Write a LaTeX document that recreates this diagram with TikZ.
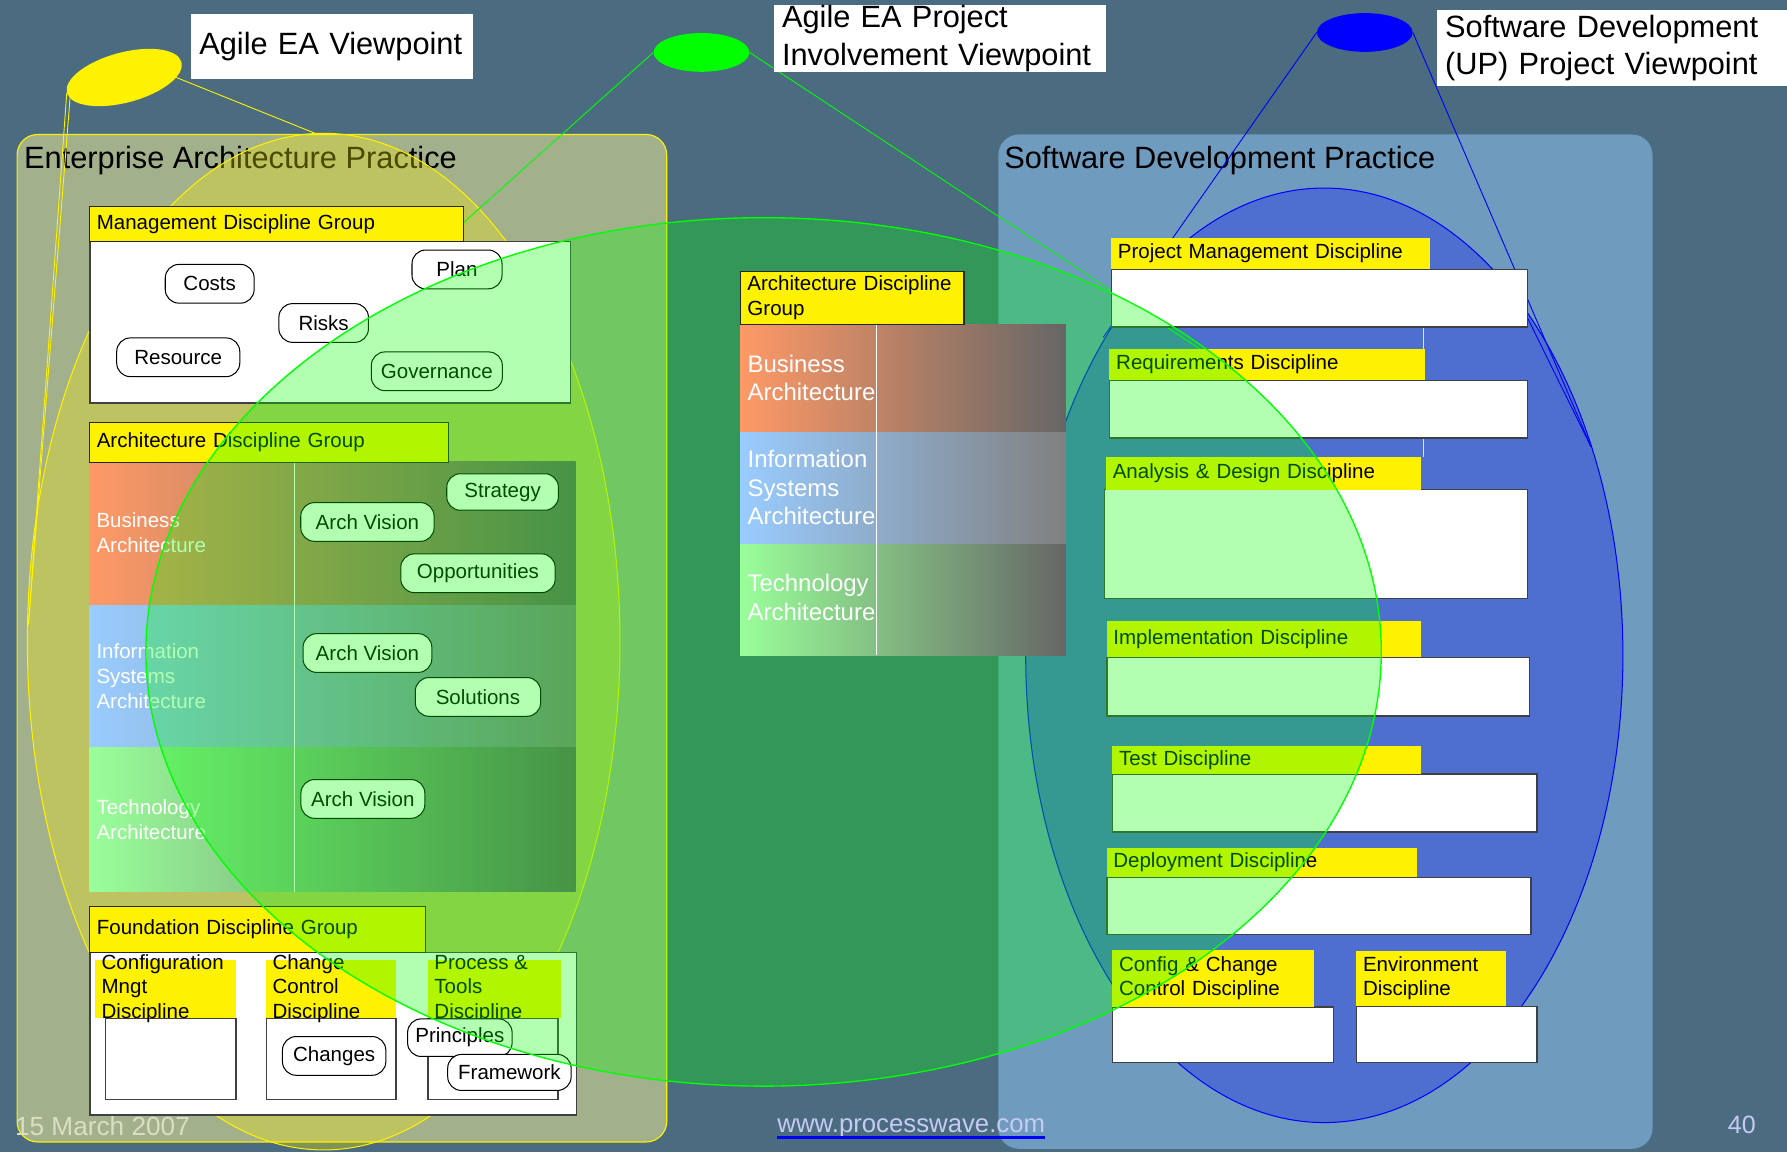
\documentclass[tikz,border=0pt]{standalone}
\usepackage{fontspec}
\setmainfont{Liberation Sans}
\usetikzlibrary{shapes.geometric}
\definecolor{bgc}{RGB}{74,107,128}
\definecolor{eapc}{RGB}{162,176,140}
\definecolor{sdpc}{RGB}{111,155,190}
\definecolor{orng}{RGB}{255,153,102}
\definecolor{lblue}{RGB}{153,204,255}
\definecolor{lgreen}{RGB}{153,255,153}
\definecolor{gry}{RGB}{102,102,102}
\definecolor{gry2}{RGB}{128,128,128}
\definecolor{datec}{RGB}{218,222,196}
\definecolor{urlc}{RGB}{198,202,242}
\newcommand\fsz[2]{\fontsize{#1}{#2}\selectfont}
\begin{document}
\begin{tikzpicture}[x=1pt,y=-1pt,
  hdr/.style={rectangle, fill=yellow, draw=black!85, line width=0.9pt, anchor=north west, inner xsep=6pt, inner ysep=0pt, align=left, font=\fsz{18}{22}},
  shdr/.style={rectangle, fill=yellow, anchor=north west, inner xsep=6pt, inner ysep=0pt, align=left, font=\fsz{18}{21}},
  wbody/.style={rectangle, fill=white, draw=black!75, line width=1.1pt, anchor=north west, inner sep=0pt},
  subl/.style={rectangle, fill=yellow, anchor=north west, inner sep=0pt},
  pill/.style={rectangle, rounded corners=12pt, fill=white, draw=black, line width=0.9pt, minimum height=34pt, inner sep=0pt, font=\fsz{18}{22}},
  bandlbl/.style={anchor=west, inner sep=0pt, align=left, text=white, font=\fsz{18}{22}},
  cbandlbl/.style={anchor=west, inner sep=0pt, align=left, text=white, font=\fsz{21}{25}},
  fndlbl/.style={anchor=west, inner sep=0pt, align=left, font=\fsz{18}{21.5}},
  lbl/.style={rectangle, fill=white, anchor=north west, inner xsep=7pt, inner ysep=0pt, align=left, font=\fsz{27}{33}},
  vpmark/.style={ellipse, inner sep=0pt},
  ttl/.style={anchor=west, inner sep=0pt, font=\fsz{27}{32}},
  ]
% background
\fill[bgc] (0,0) rectangle (1568,1011);
\useasboundingbox (0,0) rectangle (1568,1011);

% practice areas
\draw[fill=eapc, draw=yellow, line width=1pt, rounded corners=18pt] (15,118) rectangle (585,1002);
\fill[sdpc, rounded corners=18pt] (876,118) rectangle (1450,1008);
\node[ttl] (eat) at (21,141) {Enterprise Architecture Practice};
\node[ttl] (sdt) at (881,141) {Software Development Practice};

% viewpoint coverage ellipses
\draw[yellow, line width=0.9pt, fill=yellow, fill opacity=0.3] (284,563) ellipse [x radius=260pt, y radius=446pt];
\draw[blue, line width=0.9pt, fill=blue, fill opacity=0.29] (1162,575) ellipse [x radius=262pt, y radius=410pt];

% viewpoint markers
\node[vpmark, fill=yellow, minimum width=104pt, minimum height=44pt, rotate=15] (yv) at (109,68) {};
\node[vpmark, fill=green, minimum width=84pt, minimum height=34pt] (gv) at (615.5,46) {};
\node[vpmark, fill=blue, minimum width=84pt, minimum height=34pt] (bv) at (1197.5,28.5) {};

% cone end points
\coordinate (yA) at (25,548);
\coordinate (yT) at (279,118);
\coordinate (gA) at (290,300);
\coordinate (gB) at (1089,330);
\coordinate (bA) at (968,296);
\coordinate (bB) at (1396,392);
\coordinate (bC) at (1330,258);
\draw[yellow, line width=0.8pt] (yv.west) -- (yA);
\draw[yellow, line width=0.8pt] (yv.186) -- (yA);
\draw[yellow, line width=0.8pt] (yv.-15) -- (yT);
\draw[green, line width=0.8pt] (gv.west) -- (gA);
\draw[green, line width=0.8pt] (gv.east) -- (gB);
\draw[blue, line width=0.8pt] (bv.west) -- (bA);
\draw[blue, line width=0.8pt] (bv.east) -- (bB);
\draw[blue, line width=0.8pt] (bC) -- (bB);
\coordinate (sv1) at (1249,286);
\coordinate (sv2) at (1249,401);
\draw[white!75!sdpc, line width=0.8pt] (sv1) -- (sv2);

% ---------- Management Discipline Group
\node[wbody, minimum width=421.5pt, minimum height=141.5pt] (mgb) at (78.5,211.5) {};
\node[hdr, minimum height=30.5pt, text width=316pt] (mgh) at (78.5,181) {Management Discipline Group};
\node[pill, minimum width=78pt] (costs) at (184,249) {Costs};
\node[pill, minimum width=79pt] (plan) at (401,236.4) {Plan};
\node[pill, minimum width=78.6pt] (risks) at (284,283.4) {Risks};
\node[pill, minimum width=108pt] (res) at (156.4,313.5) {Resource};
\node[pill, minimum width=115pt] (gov) at (383.3,325.8) {Governance};

% ---------- Architecture Discipline Group (left)
\shade[left color=orng, right color=gry] (78.5,405) rectangle (505,531);
\shade[left color=lblue, right color=gry2] (78.5,531) rectangle (505,656);
\shade[left color=lgreen, right color=gry] (78.5,656) rectangle (505,782.5);
\coordinate (ad1) at (258,405);
\coordinate (ad2) at (258,782.5);
\draw[white, line width=0.8pt] (ad1) -- (ad2);
\node[hdr, minimum height=34.5pt, text width=303pt] (agh) at (78.5,370.5) {Architecture Discipline Group};
\node[bandlbl] (lba) at (84.5,467.6) {Business\\Architecture};
\node[bandlbl] (lisa) at (84.5,593.4) {Information\\Systems\\Architecture};
\node[bandlbl] (lta) at (84.5,719.3) {Technology\\Architecture};
\node[pill, minimum width=98pt, minimum height=32pt] (strat) at (441,431.7) {Strategy};
\node[pill, minimum width=117pt] (av1) at (322.4,458) {Arch Vision};
\node[pill, minimum width=135.5pt] (opp) at (419.4,503) {Opportunities};
\node[pill, minimum width=113pt] (av2) at (322.4,573) {Arch Vision};
\node[pill, minimum width=110pt] (sol) at (419.4,611.5) {Solutions};
\node[pill, minimum width=108.7pt] (av3) at (318.4,701) {Arch Vision};

% ---------- Foundation Discipline Group
\node[wbody, minimum width=426.5pt, minimum height=142.5pt] (fnb) at (78.5,835.3) {};
\node[hdr, minimum height=40.3pt, text width=282pt] (fnh) at (78.5,795) {Foundation Discipline Group};
\node[subl, minimum width=123pt, minimum height=51pt] (cml) at (83.5,842) {};
\node[subl, minimum width=113.5pt, minimum height=51pt] (ccl) at (233.5,842) {};
\node[subl, minimum width=117pt, minimum height=51pt] (ptl) at (375,842) {};
\node[wbody, minimum width=114.5pt, minimum height=71pt] (cmb) at (92,893) {};
\node[wbody, minimum width=114pt, minimum height=71pt] (ccb) at (233,893) {};
\node[wbody, minimum width=114pt, minimum height=71pt] (ptb) at (375,893) {};
\node[fndlbl] (cmt) at (89,867.5) {Configuration\\Mngt\\Discipline};
\node[fndlbl] (cct) at (239,867.5) {Change\\Control\\Discipline};
\node[fndlbl] (ptt) at (381,867.5) {Process \&\\Tools\\Discipline};
\node[pill, minimum width=90.7pt] (chg) at (293.2,926.5) {Changes};
\node[pill, minimum width=91.7pt, minimum height=33pt] (prin) at (403.5,910.5) {Principles};
\node[pill, minimum width=108.3pt, minimum height=31.6pt] (frm) at (447,941) {Framework};

% ---------- Software development disciplines
\node[wbody, minimum width=365.2pt, minimum height=50.7pt] (pmb) at (974.7,235.7) {};
\node[shdr, minimum height=26.8pt, text width=267.6pt] (pmh) at (974.7,208.9) {Project Management Discipline};
\node[wbody, minimum width=366.7pt, minimum height=50.4pt] (rqb) at (973.2,333.4) {};
\node[shdr, minimum height=27.2pt, text width=265.1pt] (rqh) at (973.2,306.2) {Requirements Discipline};
\node[wbody, minimum width=371.2pt, minimum height=95.3pt] (adb) at (968.7,429.2) {};
\node[shdr, minimum height=29.2pt, text width=264pt] (adh) at (970.2,400.6) {Analysis \& Design Discipline};
\node[wbody, minimum width=370.7pt, minimum height=51.7pt] (imb) at (970.7,576.1) {};
\node[shdr, minimum height=31.3pt, text width=263.5pt] (imh) at (970.7,544.8) {Implementation Discipline};
\node[wbody, minimum width=372.2pt, minimum height=51pt] (tsb) at (975.8,678.5) {};
\node[shdr, minimum height=23.9pt, text width=258.4pt] (tsh) at (975.8,654.6) {Test Discipline};
\node[wbody, minimum width=372.2pt, minimum height=50.3pt] (dpb) at (970.7,769.2) {};
\node[shdr, minimum height=25.2pt, text width=260pt] (dph) at (970.7,744) {Deployment Discipline};
\node[wbody, minimum width=193.4pt, minimum height=49pt] (ccmb) at (975.8,883) {};
\node[shdr, minimum height=49.4pt, text width=165.2pt] (ccmh) at (975.8,833.6) {Config \& Change\\Control Discipline};
\node[wbody, minimum width=158.2pt, minimum height=49.7pt] (envb) at (1189.8,882.3) {};
\node[shdr, minimum height=47.7pt, text width=119pt] (envh) at (1189.8,834.6) {Environment\\Discipline};

% ---------- Agile EA project involvement coverage
\draw[green, line width=1.2pt, fill=green, fill opacity=0.3] (670,572) ellipse [x radius=542pt, y radius=381pt];

% ---------- Architecture Discipline Group (centre)
\shade[left color=orng, right color=gry] (649.4,284.4) rectangle (935.2,379.7);
\shade[left color=lblue, right color=gry2] (649.4,379.7) rectangle (935.2,477.4);
\shade[left color=lgreen, right color=gry] (649.4,477.4) rectangle (935.2,574.8);
\coordinate (cd1) at (769.3,284.4);
\coordinate (cd2) at (769.3,574.8);
\draw[white, line width=0.8pt] (cd1) -- (cd2);
\node[hdr, minimum height=46.8pt, text width=184pt] (cgh) at (649.4,237.6) {Architecture Discipline\\Group};
\node[cbandlbl] (cba) at (655.8,331.7) {Business\\Architecture};
\node[cbandlbl] (cisa) at (655.8,428.1) {Information\\Systems\\Architecture};
\node[cbandlbl] (cta) at (655.8,524.4) {Technology\\Architecture};

% ---------- viewpoint labels
\node[lbl, minimum width=247pt, minimum height=56.4pt, text width=233pt] (yl) at (167.7,12.4) {Agile EA Viewpoint};
\node[lbl, minimum width=291pt, minimum height=57.6pt, text width=277pt, inner xsep=6pt] (gl) at (679,4.4) {Agile EA Project\\Involvement Viewpoint};
\node[lbl, minimum width=307.2pt, minimum height=67.2pt, text width=293.2pt] (sl) at (1260.8,8.4) {Software Development\\(UP) Project Viewpoint};

% ---------- footer
\node[anchor=west, inner sep=0pt, font=\fsz{23}{27}, text=datec] (date) at (13,988) {15 March 2007};
\node[anchor=west, inner sep=0pt, font=\fsz{22.6}{27}, text=urlc] (url) at (682,990) {www.processwave.com};
\draw[blue, line width=2.5pt] ([yshift=-4pt]url.base west) -- ([yshift=-4pt]url.base east);
\node[anchor=west, inner sep=0pt, font=\fsz{22}{26}, text=urlc] (pg) at (1516,987) {40};
\end{tikzpicture}
\end{document}
